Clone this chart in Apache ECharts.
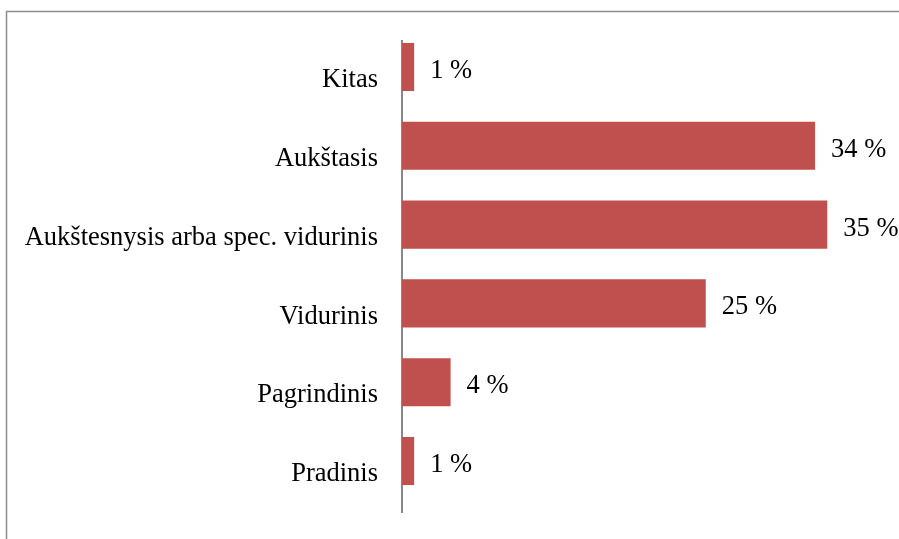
<!DOCTYPE html>
<html>
<head>
<meta charset="utf-8">
<script src="https://cdn.jsdelivr.net/npm/echarts@6/dist/echarts.min.js"></script>
<style>
  html, body { margin: 0; padding: 0; background: #fff; }
  #chart { width: 899px; height: 539px; }
</style>
</head>
<body>
<div id="chart"></div>
<script>
  // kategorijos is apacios i virsu
  var categories = ['Pradinis', 'Pagrindinis', 'Vidurinis', 'Aukštesnysis arba spec. vidurinis', 'Aukštasis', 'Kitas'];
  var values = [1, 4, 25, 35, 34, 1];

  var chart = echarts.init(document.getElementById('chart'));
  var option = {
    backgroundColor: '#fff',
    animation: false,
    graphic: [{
      type: 'rect',
      shape: { x: 6.5, y: 11.5, width: 1000, height: 1000 },
      style: { fill: 'none', stroke: '#8c8c8c', lineWidth: 1.5 },
      silent: true
    }, {
      // asies linija ilgesne nei kategoriju sritis
      type: 'line',
      shape: { x1: 402, y1: 40, x2: 402, y2: 513 },
      style: { stroke: '#888', lineWidth: 2 },
      silent: true
    }],
    grid: {
      left: 402,
      right: 11,
      top: 27.6,
      bottom: 38.6
    },
    xAxis: {
      type: 'value',
      min: 0,
      max: 40,
      show: false
    },
    yAxis: {
      type: 'category',
      data: categories,
      axisLine: { show: false },
      axisTick: { show: false },
      axisLabel: {
        color: '#000',
        fontFamily: 'Liberation Serif, Times New Roman, serif',
        fontSize: 26.5,
        lineHeight: 26.5,
        margin: 24,
        verticalAlign: 'top'
      }
    },
    series: [{
      type: 'bar',
      data: values,
      barWidth: '61%',
      itemStyle: { color: '#C0504D' },
      label: {
        show: true,
        position: 'right',
        distance: 16,
        offset: [0, 4],
        formatter: '{c} %',
        color: '#000',
        fontFamily: 'Liberation Serif, Times New Roman, serif',
        fontSize: 26.5
      }
    }]
  };
  chart.setOption(option);
</script>
</body>
</html>
